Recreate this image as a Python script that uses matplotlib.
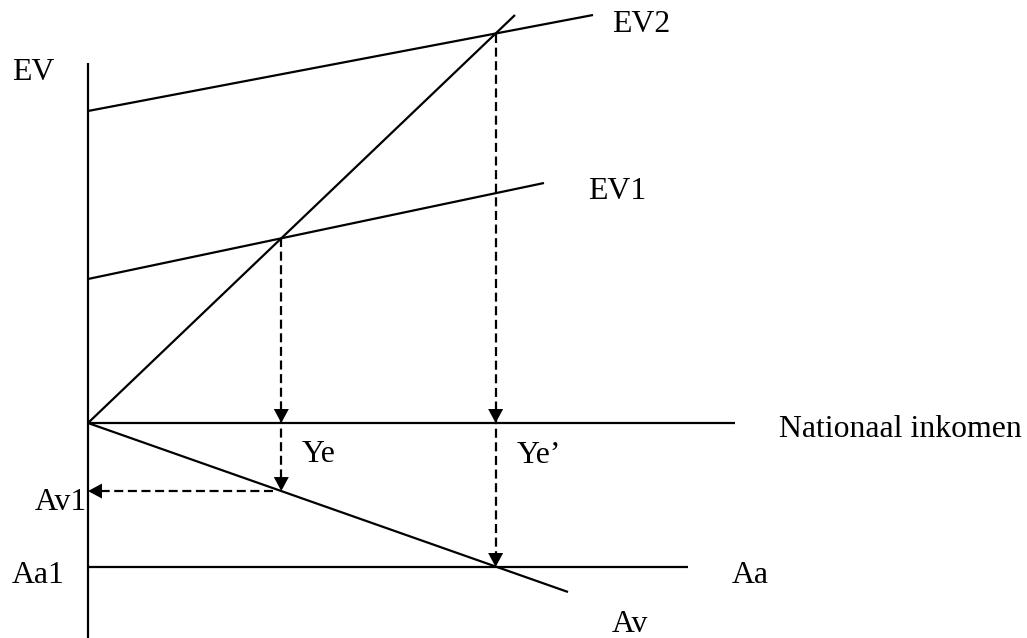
import matplotlib
matplotlib.use("Agg")
import matplotlib.pyplot as plt
import numpy as np

plt.rcParams['font.family'] = ['Liberation Serif', 'DejaVu Serif']
plt.rcParams['lines.scale_dashes'] = False

# ---- diagram data (income on x, spending on y; origin = 0,0) ----
ev2_line = [(0, 312), (505, 408)]        # EV2
ev1_line = [(0, 144), (456, 240)]        # EV1
y45_line = [(0, 0), (427, 408)]          # 45-degree line
inkomen_axis = [(0, 0), (647, 0)]        # Nationaal inkomen
av_line = [(0, 0), (480, -169)]          # Av
aa_line = [(0, -144), (600, -144)]       # Aa
vertical_axis = [(0, -215), (0, 360)]    # EV axis

labels_text = ["EV", "EV2", "EV1", "Nationaal inkomen", "Ye", "Ye’", "Av1", "Aa1", "Aa", "Av"]


def line_fn(seg):
    (x0, y0), (x1, y1) = seg
    m = (y1 - y0) / (x1 - x0)
    return m, y0 - m * x0


def intersect(a, b):
    m1, c1 = line_fn(a)
    m2, c2 = line_fn(b)
    x = (c2 - c1) / (m1 - m2)
    return x, m1 * x + c1


fig = plt.figure(figsize=(10.27, 6.38), dpi=100)
ax = fig.add_axes([0, 0, 1, 1])
ax.set_xlim(-88, 939)
ax.set_ylim(-215, 423)
ax.axis('off')

LW = 1.6
for seg in [ev2_line, ev1_line, y45_line, inkomen_axis, av_line, aa_line, vertical_axis]:
    xs, ys = zip(*seg)
    ax.plot(xs, ys, color='black', lw=LW, solid_capstyle='butt')


def arrowhead(tip, direction, L=14, W=15):
    tx, ty = tip
    if direction == 'down':
        pts = [(tx, ty), (tx - W / 2, ty + L), (tx + W / 2, ty + L)]
    else:  # left
        pts = [(tx, ty), (tx + L, ty + W / 2), (tx + L, ty - W / 2)]
    ax.fill(*zip(*pts), color='black', lw=0, zorder=5)


dash = (0, (6.5, 3.3))
# Ye
ye_x, ye_top = intersect(ev1_line, y45_line)
m_av, c_av = line_fn(av_line)
av1 = m_av * ye_x + c_av
ax.plot([ye_x, ye_x], [ye_top, av1 + 10], color='black', lw=LW, ls=dash)
arrowhead((ye_x, 0), 'down')
arrowhead((ye_x, av1), 'down')
ax.plot([ye_x - 8, 10], [av1, av1], color='black', lw=LW, ls=dash)
arrowhead((0, av1), 'left')

# Ye'
ye2_x, ye2_top = intersect(ev2_line, y45_line)
aa_y = aa_line[0][1]
ax.plot([ye2_x, ye2_x], [ye2_top, aa_y + 10], color='black', lw=LW, ls=dash)
arrowhead((ye2_x, 0), 'down')
arrowhead((ye2_x, aa_y), 'down')

fs = 22.9
txt = dict(fontsize=fs, color='black', va='baseline')
ax.text(-76, 343, labels_text[0], ha='left', **txt)
ax.text(524, 391, labels_text[1], ha='left', **txt)
ax.text(500, 224, labels_text[2], ha='left', **txt)
ax.text(691, -14, labels_text[3], ha='left', **txt)
ax.text(ye_x + 20, -39, labels_text[4], ha='left', **txt)
ax.text(ye2_x + 21, -40, labels_text[5], ha='left', **txt)
ax.text(-1, -87, labels_text[6], ha='right', **txt)
ax.text(-76, -160, labels_text[7], ha='left', **txt)
ax.text(644, -160, labels_text[8], ha='left', **txt)
ax.text(524, -209, labels_text[9], ha='left', **txt)

fig.savefig('out.png', dpi=100)
